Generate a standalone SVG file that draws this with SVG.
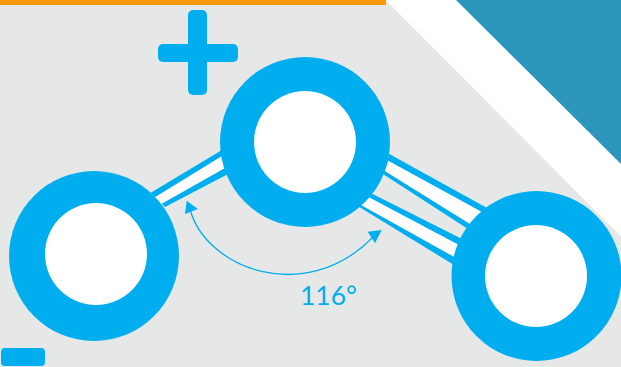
<svg xmlns="http://www.w3.org/2000/svg" width="621" height="367" viewBox="0 0 621 367">
<style>
.b{fill:#00aeef}
.w{fill:#fff}
.t{font-family:"Lato","Open Sans","Liberation Sans",sans-serif;font-size:26.5px;fill:#00aeef}
</style>
<rect width="621" height="367" fill="#e6e8e8"/>
<polygon points="385,0 621,237 621,0" fill="#fff"/>
<line x1="385" y1="0" x2="621" y2="237" stroke="#f5dfd0" stroke-width="0.8"/>
<polygon points="456,0 621,164 621,0" fill="#2c95bc"/>
<rect width="386" height="5" fill="#ff9900"/>
<g id="connectors">
<polygon class="b" points="150.7,192.7 222,150 228,174 165,207"/>
<polygon class="w" points="154,197.7 160,204.7 225,168 222,156"/>
<polygon class="b" points="389.3,154 488,208.5 468,229 383.3,174.3"/>
<polygon class="w" points="388.3,160.7 384.3,170.7 470,224 482,212"/>
<polygon class="b" points="372.7,194 462,239 454,265 357.3,205.7"/>
<polygon class="w" points="369,197.3 361,205 456,258 459,245"/>
<path d="M190,209 C205,268 305,307 373,237" fill="none" stroke="#00aeef" stroke-width="1.3"/>
<polygon class="b" points="186.7,200.7 185,214 198,209"/>
<polygon class="b" points="381.7,230 367.7,231.7 375,243.3"/>
</g>
<g id="node-left"><circle class="b" cx="94" cy="256" r="85"/><circle class="w" cx="96" cy="254" r="51"/></g>
<g id="node-center"><circle class="b" cx="305" cy="142" r="85"/><circle class="w" cx="305" cy="142" r="51"/></g>
<g id="node-right"><circle class="b" cx="536.5" cy="276" r="85"/><circle class="w" cx="536" cy="276" r="51"/></g>
<g id="plus"><rect class="b" x="188" y="10" width="19" height="85" rx="5"/><rect class="b" x="158" y="44" width="80" height="18" rx="5"/></g>
<g id="minus"><rect class="b" x="1" y="348" width="44" height="18" rx="4"/></g>
<text id="angle" class="t" x="300" y="305">116°</text>
</svg>
